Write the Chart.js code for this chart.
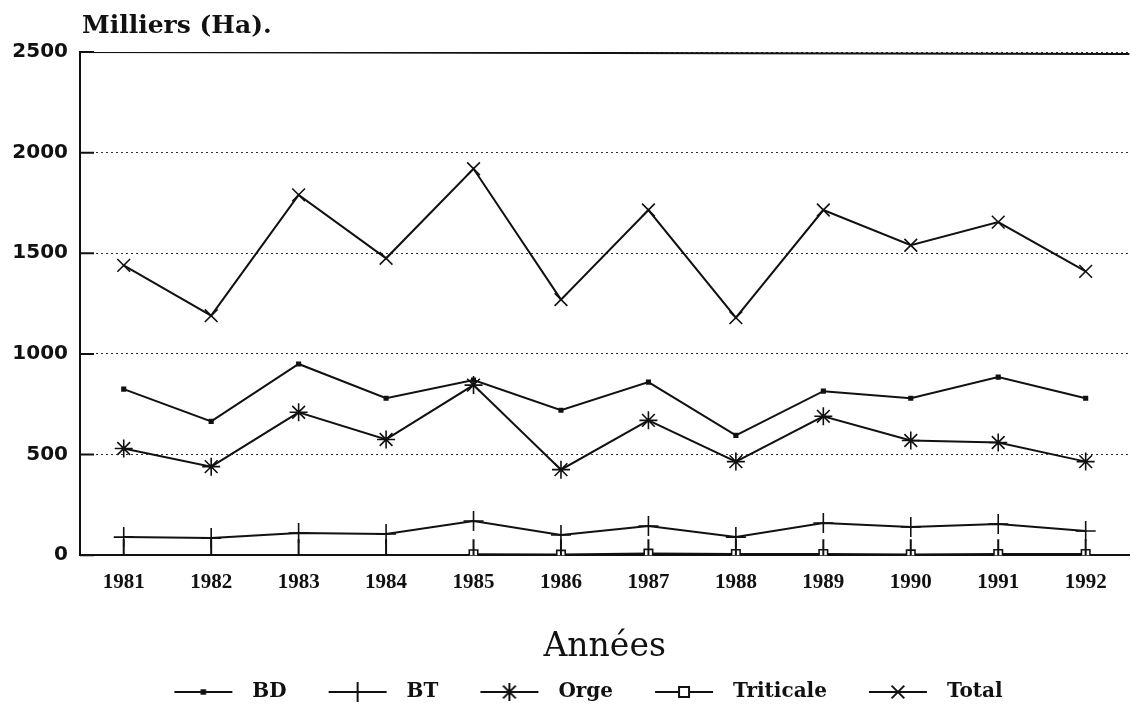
<!DOCTYPE html>
<html>
<head>
<meta charset="utf-8">
<style>
  html, body { margin: 0; padding: 0; background: #fff; }
  #wrap { width: 1141px; height: 717px; }
</style>
<script src="https://cdn.jsdelivr.net/npm/chart.js@4/dist/chart.umd.min.js"></script>
</head>
<body>
<div id="wrap"><canvas id="chart" width="1141" height="717"></canvas></div>
<script>
const years = ['1981', '1982', '1983', '1984', '1985', '1986', '1987', '1988', '1989', '1990', '1991', '1992'];
const yTicks = [0, 500, 1000, 1500, 2000, 2500];

const bd = [825, 665, 950, 780, 870, 720, 860, 595, 815, 780, 885, 780];
const bt = [90, 85, 110, 105, 170, 100, 145, 90, 160, 140, 155, 120];
const orge = [530, 440, 710, 575, 845, 425, 670, 465, 690, 570, 560, 465];
const triticale = [null, null, null, null, 5, 3, 8, 6, 6, 4, 6, 6];
const total = [1440, 1190, 1790, 1475, 1920, 1270, 1715, 1180, 1715, 1540, 1655, 1410];

const INK = '#111';
const SERIF = '"DejaVu Serif", "Liberation Serif", serif';

// legend swatch: transparent left margin, then a line with the marker in the middle
function swatch(style, r) {
  const c = document.createElement('canvas');
  c.width = 100; c.height = 22;
  const g = c.getContext('2d');
  g.strokeStyle = INK; g.fillStyle = INK; g.lineWidth = 2;
  g.beginPath(); g.moveTo(32, 11); g.lineTo(90, 11); g.stroke();
  Chart.helpers.drawPoint(g, { pointStyle: style, radius: r, borderWidth: 1.5 }, 61, 11);
  if (style === 'rect' && r > 4) { g.fillStyle = '#fff'; g.fillRect(56, 6, 10, 10); g.strokeRect(56, 6, 10, 10); }
  return c;
}

// inward tick marks, solid top frame and the unit caption
const frame = {
  id: 'frame',
  afterDatasetsDraw(chart) {
    const { ctx, chartArea: a, scales } = chart;
    ctx.save();
    ctx.strokeStyle = INK;
    ctx.lineWidth = 2;
    ctx.beginPath();
    ctx.moveTo(a.left, a.top); ctx.lineTo(a.right, a.top + 2);
    scales.x.ticks.forEach((t, i) => {
      const x = scales.x.getPixelForTick(i);
      ctx.moveTo(x, a.bottom); ctx.lineTo(x, a.bottom - 16);
    });
    scales.y.ticks.forEach((t, i) => {
      const y = scales.y.getPixelForTick(i);
      ctx.moveTo(a.left, y); ctx.lineTo(a.left + 14, y);
    });
    ctx.stroke();
    ctx.fillStyle = INK;
    ctx.font = 'bold 25px "DejaVu Serif"';
    ctx.textBaseline = 'alphabetic';
    ctx.fillText('Milliers (Ha).', a.left + 2, 33);
    ctx.restore();
  }
};

const line = (label, data, style, r) => ({
  label,
  data,
  borderColor: INK,
  backgroundColor: style === 'rect' && r > 4 ? '#fff' : INK,
  borderWidth: 2,
  pointStyle: style,
  pointRadius: r,
  pointBorderWidth: 1.6,
  pointBorderColor: INK,
  pointBackgroundColor: style === 'rect' && r > 4 ? '#fff' : INK,
  tension: 0,
  spanGaps: false,
  legendIcon: swatch(style, r)
});

new Chart(document.getElementById('chart'), {
  type: 'line',
  plugins: [frame],
  data: {
    labels: years,
    datasets: [
      line('BD', bd, 'rect', 2.5),
      line('BT', bt, 'cross', 10),
      line('Orge', orge, 'star', 9),
      line('Triticale', triticale, 'rect', 6),
      line('Total', total, 'crossRot', 9)
    ]
  },
  options: {
    responsive: false,
    animation: false,
    layout: { padding: { top: 52, right: 6, left: 10, bottom: 5 } },
    plugins: {
      tooltip: { enabled: false },
      legend: {
        position: 'bottom',
        labels: {
          usePointStyle: true,
          pointStyleWidth: 100,
          boxHeight: 22,
          padding: 10,
          color: INK,
          font: { family: SERIF, size: 20, weight: 'bold' },
          generateLabels(chart) {
            return chart.data.datasets.map((ds, i) => ({
              text: ds.label,
              pointStyle: ds.legendIcon,
              fillStyle: INK,
              strokeStyle: INK,
              lineWidth: 0,
              fontColor: INK,
              datasetIndex: i
            }));
          }
        }
      }
    },
    scales: {
      x: {
        offset: true,
        grid: { display: false },
        border: { color: INK, width: 2 },
        ticks: { color: INK, padding: 7, font: { family: '"Liberation Serif"', size: 21, weight: 'bold' } },
        title: {
          display: true,
          text: 'Années',
          color: INK,
          padding: { top: 25, bottom: 5 },
          font: { family: SERIF, size: 33 }
        }
      },
      y: {
        min: 0,
        max: 2500,
        afterBuildTicks(scale) { scale.ticks = yTicks.map(v => ({ value: v })); },
        afterFit(scale) { scale.width = 70; },
        grid: { color: '#333', lineWidth: 1, drawTicks: false },
        border: { color: INK, width: 2, dash: [2, 3] },
        ticks: {
          color: INK,
          padding: 12,
          callback: v => String(v),
          font: { family: '"DejaVu Sans"', size: 20, weight: 'bold' }
        }
      }
    }
  }
});
</script>
</body>
</html>
